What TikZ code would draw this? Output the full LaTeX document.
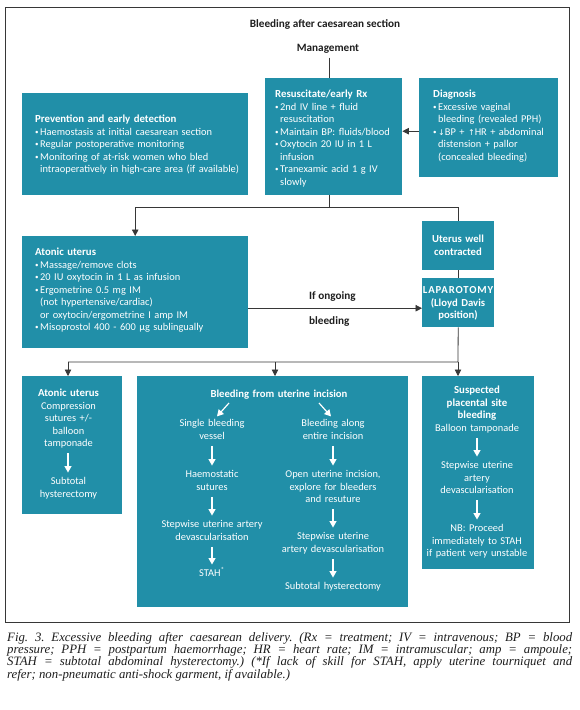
\documentclass[tikz,border=0pt]{standalone}
\usepackage{fontspec}
\setmainfont{Liberation Serif}
\newfontfamily\cfont{Carlito}
\newfontfamily\symfont{DejaVu Sans}
\usetikzlibrary{arrows.meta,calc}
\definecolor{teal1}{RGB}{33,143,168}
\definecolor{linec}{RGB}{55,55,55}
\definecolor{capc}{RGB}{30,30,30}
\newcommand\bul{\makebox[5pt][l]{\fontsize{7}{7}\selectfont\raisebox{0.6pt}{•}}}
\newcommand\ind{\hspace*{5pt}}
\newcommand\hd[1]{{\fontsize{10.8}{12.5}\selectfont\bfseries #1}}
\newcommand\arrsym[1]{{\symfont\fontsize{8}{8}\selectfont #1}}
\begin{document}
\begin{tikzpicture}[x=1pt,y=-1pt,
  box/.style={fill=teal1, draw=none, inner sep=0pt, anchor=north west},
  txt/.style={text=white, font=\cfont\fontsize{10.4}{12.5}\selectfont, inner sep=0pt,
     execute at begin node=\strut, execute at end node=\strut},
  ltxt/.style={txt, align=left, text width=#1, anchor=base west},
  ctxt/.style={txt, align=center, text width=#1, anchor=base},
  bf/.style={font=\cfont\bfseries\fontsize{10.7}{12.5}\selectfont},
  ln/.style={draw=linec, line width=0.8pt},
  arr/.style={ln, -{Triangle[length=6.5pt,width=6.5pt]}},
  warr/.style={draw=white, line width=1.2pt, -{Triangle[length=6.5pt,width=7pt]}, shorten <=3pt, shorten >=3pt},
  lab/.style={font=\cfont\bfseries\fontsize{11.2}{12.5}\selectfont, text=black!88, inner sep=0pt}
]
\useasboundingbox (0,0) rectangle (580,710);
\fill[white] (0,0) rectangle (580,710);
\draw[draw=linec, line width=0.8pt] (5,7) rectangle (569,622);

% boxes
\node[box, minimum width=226pt, minimum height=102pt] (prev) at (22,93) {};
\node[box, minimum width=137pt, minimum height=117pt] (resus) at (265,78) {};
\node[box, minimum width=139pt, minimum height=99pt] (diag) at (419,78) {};
\node[box, minimum width=226pt, minimum height=112pt] (aton) at (22,236) {};
\node[box, minimum width=72pt, minimum height=49pt] (wellc) at (422,221) {};
\node[box, minimum width=72pt, minimum height=49pt] (lap) at (422,278) {};
\node[box, minimum width=100pt, minimum height=138pt] (aton2) at (22,376) {};
\node[box, minimum width=271pt, minimum height=231pt] (inc) at (137,376) {};
\node[box, minimum width=112pt, minimum height=193pt] (plac) at (422,376) {};

% titles
\node[lab, anchor=base] (title) at (325,27.5) {Bleeding after caesarean section};
\node[lab, anchor=base] (mgmt) at (328,51.5) {Management};

% connectors
\coordinate (j1) at (329,207);
\draw[ln, shorten <=4pt] (mgmt.south -| j1) -- (j1 |- resus.north);
\draw[ln] (j1 |- resus.south) -- (j1);
\draw[arr] (j1) -| (aton.north);
\draw[ln] (j1) -| (wellc.north);
\draw[arr] ($(diag.west)+(0,3.5)$) -- ($(diag.west -| resus.east)+(0,3.5)$);
\draw[ln] (wellc.south) -- (lap.north);
\draw[arr] ($(aton.east)+(0,16)$) -- ($(aton.east -| lap.west)+(0,16)$);
\node[lab, anchor=base west] (ifo) at (309,299.5) {If ongoing};
\node[lab, anchor=base west] (bld) at (309,324.5) {bleeding};
\coordinate (j2) at (458,362);
\coordinate (b1) at (68,362);
\coordinate (b2) at (275,362);
\draw[ln] (lap.south) -- (j2) -- (b1);
\draw[arr] (b1) -- (b1 |- aton2.north);
\draw[arr] (b2) -- (b2 |- inc.north);
\draw[arr] (j2) -- (j2 |- plac.north);

% box texts
\node[ltxt=230pt] (prevt) at (35,122.5) {\hd{Prevention and early detection}\\\bul Haemostasis at initial caesarean section\\\bul Regular postoperative monitoring\\\bul Monitoring of at-risk women who bled\\\ind intraoperatively in high-care area (if available)};
\node[ltxt=150pt] (resust) at (275,97.5) {\hd{Resuscitate/early Rx}\\\bul 2nd IV line + fluid\\\ind resuscitation\\\bul Maintain BP: fluids/blood\\\bul Oxytocin 20 IU in 1 L\\\ind infusion\\\bul Tranexamic acid 1 g IV\\\ind slowly};
\node[ltxt=150pt] (diagt) at (433,97.5) {\hd{Diagnosis}\\\bul Excessive vaginal\\\ind bleeding (revealed PPH)\\\bul \arrsym{↓}BP + \arrsym{↑}HR + abdominal\\\ind distension + pallor\\\ind (concealed bleeding)};
\node[ltxt=230pt] (atont) at (35,255.5) {\hd{Atonic uterus}\\\bul Massage/remove clots\\\bul 20 IU oxytocin in 1 L as infusion\\\bul Ergometrine 0.5 mg IM\\\ind (not hypertensive/cardiac)\\\ind or oxytocin/ergometrine I amp IM\\\bul Misoprostol 400 - 600 µg sublingually};
\node[ctxt=80pt, bf] (wellct) at (458,242.5) {Uterus well\\contracted};
\node[ctxt=80pt, bf] (lapt) at (458,293.5) {{\addfontfeatures{LetterSpace=8}LAPAROTOMY}\\(Lloyd Davis\\position)};

% lower left
\node[ctxt=100pt] (a2t) at (68.5,396.5) {\hd{Atonic uterus}\\Compression\\sutures +/-\\balloon\\tamponade};
\node[ctxt=100pt] (a2b) at (68.5,484.5) {Subtotal\\hysterectomy};
\draw[warr] (a2t.south -| b1) -- (a2b.north -| b1);

% middle
\node[ctxt=200pt, bf] (inch) at (279,397.5) {Bleeding from uterine incision};
\node[ctxt=120pt] (l1) at (212,426.5) {Single bleeding\\vessel};
\node[ctxt=120pt] (l2) at (212,477.5) {Haemostatic\\sutures};
\node[ctxt=120pt] (l3) at (212,527.5) {Stepwise uterine artery\\devascularisation};
\node[ctxt=120pt] (l4) at (212,576.5) {STAH\textsuperscript{*}};
\node[ctxt=120pt] (r1) at (333,426.5) {Bleeding along\\entire incision};
\node[ctxt=120pt] (r2) at (333,477.5) {Open uterine incision,\\explore for bleeders\\and resuture};
\node[ctxt=120pt] (r3) at (333,539.5) {Stepwise uterine\\artery devascularisation};
\node[ctxt=120pt] (r4) at (333,589.5) {Subtotal hysterectomy};
\coordinate (dl) at (229,403);
\coordinate (dr) at (319,403);
\draw[warr, shorten <=0pt, shorten >=1.5pt] (dl) -- ([xshift=4pt]l1.north);
\draw[warr, shorten <=0pt, shorten >=1.5pt] (dr) -- ([xshift=-1pt]r1.north);
\draw[warr] (l1.south) -- (l2.north);
\draw[warr] (l2.south) -- (l3.north);
\draw[warr] (l3.south) -- (l4.north);
\draw[warr] (r1.south) -- (r2.north);
\draw[warr] (r2.south) -- (r3.north);
\draw[warr] (r3.south) -- (r4.north);

% right
\node[ctxt=115pt] (p1) at (477,393.5) {\hd{Suspected}\\\hd{placental site}\\\hd{bleeding}\\Balloon tamponade};
\node[ctxt=115pt] (p2) at (477,468.5) {Stepwise uterine\\artery\\devascularisation};
\node[ctxt=115pt] (p3) at (477,531.5) {NB: Proceed\\immediately to STAH\\if patient very unstable};
\draw[warr] (p1.south) -- (p2.north);
\draw[warr] (p2.south) -- (p3.north);

% caption
\node[font=\fontsize{12.8}{12.4}\selectfont\itshape, text=capc, text width=565pt, align=justify, anchor=base west, inner sep=0pt] (cap) at (7,641) {\frenchspacing\hyphenpenalty=10000 Fig. 3. Excessive bleeding after caesarean delivery. (Rx = treatment; IV = intravenous; BP = blood\linebreak pressure; PPH = postpartum haemorrhage; HR = heart rate; IM = intramuscular; amp = ampoule;\linebreak STAH = subtotal abdominal hysterectomy.) (*If lack of skill for STAH, apply uterine tourniquet and\linebreak refer; non-pneumatic anti-shock garment, if available.)};
\end{tikzpicture}
\end{document}
